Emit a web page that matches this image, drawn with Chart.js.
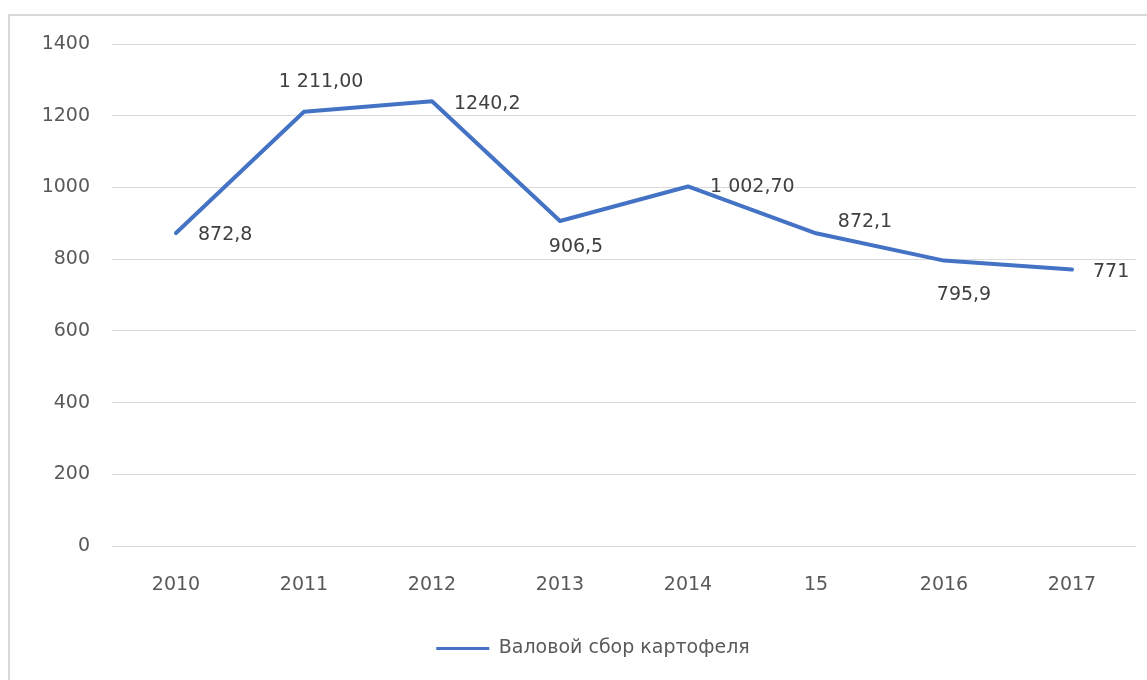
<!DOCTYPE html>
<html>
<head>
<meta charset="utf-8">
<script src="https://cdn.jsdelivr.net/npm/chart.js@4/dist/chart.umd.min.js"></script>
<style>
  html, body { margin: 0; padding: 0; background: #ffffff; width: 1147px; height: 680px; overflow: hidden; }
  #frame { position: absolute; left: 8px; top: 14px; width: 1137px; height: 664px;
           border-top: 2px solid #d9d9d9; border-left: 2px solid #d9d9d9; }
  canvas { display: block; }
</style>
</head>
<body>
<div id="frame"><canvas id="c" width="1137" height="664"></canvas></div>
<script>
// ---- data ----
const categories = ['2010', '2011', '2012', '2013', '2014', '15', '2016', '2017'];
const seriesName = 'Валовой сбор картофеля';
const harvest = [872.8, 1211.0, 1240.2, 906.5, 1002.7, 872.1, 795.9, 771];
const dataLabelTexts = ['872,8', '1 211,00', '1240,2', '906,5', '1 002,70', '872,1', '795,9', '771'];
const yTicks = [0, 200, 400, 600, 800, 1000, 1200, 1400];

// ---- label placement (styling, not data) ----
const labelPlacement = [
  { align: 'left', dx: 22, dy: 2 },
  { align: 'center', dx: 17, dy: -30 },
  { align: 'left', dx: 22, dy: 3 },
  { align: 'center', dx: 16, dy: 26 },
  { align: 'left', dx: 22, dy: 1 },
  { align: 'center', dx: 49, dy: -11 },
  { align: 'center', dx: 20, dy: 34 },
  { align: 'left', dx: 21, dy: 3 }
];

const FONT = 'DejaVu Sans';

const dataLabelPlugin = {
  id: 'dataLabels',
  afterDatasetsDraw(chart) {
    const meta = chart.getDatasetMeta(0);
    const ctx = chart.ctx;
    ctx.save();
    ctx.font = '19px "' + FONT + '"';
    ctx.fillStyle = '#404040';
    ctx.textBaseline = 'middle';
    meta.data.forEach((pt, i) => {
      const p = labelPlacement[i];
      ctx.textAlign = p.align;
      ctx.fillText(dataLabelTexts[i], pt.x + p.dx, pt.y + p.dy);
    });
    ctx.restore();
  }
};

const legendShift = {
  id: 'legendShift',
  afterLayout(chart) {
    if (chart.legend) { chart.legend.left += 20; chart.legend.right += 20; }
  }
};

new Chart(document.getElementById('c'), {
  type: 'line',
  data: {
    labels: categories,
    datasets: [{
      label: seriesName,
      data: harvest,
      borderColor: '#4472C4',
      backgroundColor: '#4472C4',
      borderWidth: 4,
      pointRadius: 0,
      pointHoverRadius: 0,
      tension: 0,
      borderCapStyle: 'round',
      borderJoinStyle: 'round',
      fill: false
    }]
  },
  options: {
    responsive: false,
    animation: false,
    events: [],
    layout: { padding: { top: 28, right: 11, bottom: 12, left: 0 } },
    scales: {
      x: {
        offset: true,
        grid: { display: false, drawTicks: true, tickLength: 20, tickColor: 'rgba(0,0,0,0)' },
        border: { display: false },
        ticks: { color: '#595959', font: { family: FONT, size: 19 }, padding: 8, maxRotation: 0 },
        afterFit: s => { s.height = 83; }
      },
      y: {
        min: 0, max: 1400,
        afterBuildTicks: s => { s.ticks = yTicks.map(v => ({ value: v })); },
        grid: { color: '#d9d9d9', lineWidth: 1, drawTicks: true, tickLength: 14, tickColor: 'rgba(0,0,0,0)' },
        border: { display: false },
        ticks: { color: '#595959', font: { family: FONT, size: 19 }, padding: 8,
                 callback: v => String(v) },
        afterFit: s => { s.width = 102; }
      }
    },
    plugins: {
      tooltip: { enabled: false },
      legend: {
        position: 'bottom',
        labels: {
          color: '#595959',
          font: { family: FONT, size: 19 },
          padding: 10,
          usePointStyle: true,
          pointStyleWidth: 53,
          generateLabels: chart => chart.data.datasets.map((ds, i) => ({
            text: ds.label,
            fillStyle: '#4472C4',
            strokeStyle: '#4472C4',
            lineWidth: 3,
            pointStyle: 'line',
            fontColor: '#595959',
            datasetIndex: i,
            hidden: false
          }))
        }
      }
    }
  },
  plugins: [dataLabelPlugin, legendShift]
});
</script>
</body>
</html>
